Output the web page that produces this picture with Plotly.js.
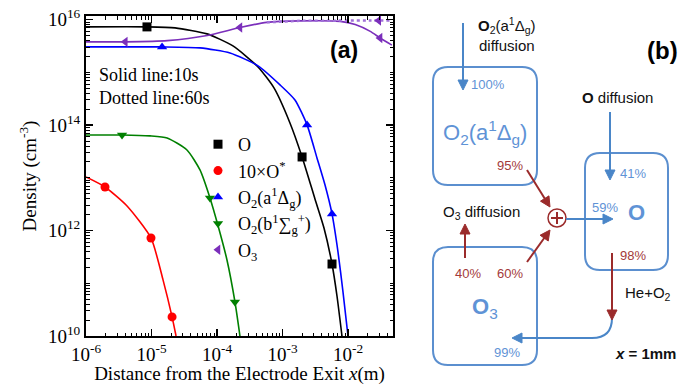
<!DOCTYPE html>
<html><head><meta charset="utf-8">
<script src="https://cdn.plot.ly/plotly-3.0.1.min.js"></script>
<style>body{margin:0;background:#fff}#c{width:686px;height:385px}</style>
</head><body><div id="c"></div>
<script>
// ---- data (panel a) ----
const oX = [1e-6, 8.53e-6, 2.29e-5, 7.03e-5, 1.75e-4, 4.23e-4, 7.41e-4, 1.30e-3, 1.99e-3, 3.13e-3, 4.30e-3, 5.70e-3, 6.79e-3, 8.09e-3];
const oY = [7.3e15, 7.3e15, 6.98e15, 5.38e15, 3.18e15, 1.27e15, 5.08e14, 1.10e14, 2.49e13, 3.98e12, 1.12e12, 2.32e11, 5.74e10, 1e10];
const oMkX = [8.53e-6, 1.99e-3, 5.70e-3];
const oMkY = [7.3e15, 2.49e13, 2.32e11];

const oStarX = [1e-6, 1.95e-6, 4.23e-6, 9.82e-6, 1.50e-5, 2.06e-5, 2.37e-5];
const oStarY = [1.04e13, 6.71e12, 2.93e12, 7.24e11, 1.16e11, 2.3e10, 1e10];
const oStarMkX = [1.95e-6, 9.82e-6, 2.06e-5];
const oStarMkY = [6.71e12, 7.24e11, 2.3e10];

const aX = [1e-6, 1.45e-5, 5.5e-5, 1.58e-4, 4.23e-4, 9.16e-4, 1.55e-3, 2.37e-3, 3.36e-3, 4.46e-3, 5.70e-3, 7.04e-3, 8.39e-3, 1e-2];
const aY = [3.05e15, 3.05e15, 2.92e15, 2.34e15, 1.33e15, 5.8e14, 3.0e14, 1.01e14, 2.39e13, 7.3e12, 2.07e12, 3.9e11, 6.8e10, 1e10];
const aMkX = [1.45e-5, 2.37e-3, 5.70e-3];
const aMkY = [3.05e15, 1.01e14, 2.07e12];

const bX = [1e-6, 3.55e-6, 9.48e-6, 1.73e-5, 3.48e-5, 5.5e-5, 7.81e-5, 1.04e-4, 1.42e-4, 1.88e-4, 2.24e-4];
const bY = [6.5e13, 6.5e13, 6.24e13, 5.71e13, 3.38e13, 1.41e13, 4.16e12, 1.22e12, 2.77e11, 4.42e10, 1e10];
const bMkX = [3.55e-6, 7.81e-5, 1.88e-4];
const bMkY = [6.5e13, 4.16e12, 4.42e10];

const o3X = [1e-6, 3.98e-6, 1.74e-5, 7.1e-5, 2.24e-4, 5.75e-4, 1.86e-3, 7.6e-3, 1.29e-2, 2.19e-2, 3.09e-2, 4.68e-2];
const o3Y = [3.8e15, 3.8e15, 4.0e15, 5.0e15, 7.1e15, 8.9e15, 9.5e15, 9.3e15, 8.1e15, 6.0e15, 4.5e15, 3.3e15];
const o3MkX = [3.98e-6, 2.24e-4, 3.09e-2];
const o3MkY = [3.8e15, 7.1e15, 4.5e15];
const o3DotX = [5.75e-4, 1.86e-3, 7.6e-3, 2.19e-2, 4.68e-2];
const o3DotY = [8.9e15, 9.5e15, 9.6e15, 9.6e15, 9.6e15];
const o3DotMkX = [2.95e-2];
const o3DotMkY = [9.6e15];

const xTickVals = [1e-6, 1e-5, 1e-4, 1e-3, 1e-2];
const xTickText = ['10<sup>-6</sup>', '10<sup>-5</sup>', '10<sup>-4</sup>', '10<sup>-3</sup>', '10<sup>-2</sup>'];
const yTickVals = [1e10, 1e12, 1e14, 1e16];
const yTickText = ['10<sup>10</sup>', '10<sup>12</sup>', '10<sup>14</sup>', '10<sup>16</sup>'];

// ---- helpers (layout only) ----
const W = 686, H = 385;
const px = x => x / W, py = y => 1 - y / H;
function minorVals(e0, e1, withDecades) {
  const v = [];
  for (let e = e0; e <= e1; e++) {
    if (withDecades && e % 2 !== 0) v.push(Math.pow(10, e));
    for (let k = 2; k <= 9; k++) v.push(k * Math.pow(10, e));
  }
  return v;
}

const C = {O: '#000000', Os: '#ff0000', a: '#0000ff', b: '#008000', o3: '#7b2fbb', o3d: '#a070d8'};
const serif = 'Liberation Serif, Times New Roman, serif';
const sans = 'Liberation Sans, Arial, sans-serif';

function line(x, y, color, extra) { return Object.assign({x, y, mode: 'lines', line: {color, width: 1.6, shape: 'spline', smoothing: 0.6}, showlegend: false, hoverinfo: 'skip'}, extra || {}); }
function mk(x, y, color, symbol, name, show) { return {x, y, mode: 'markers', name, showlegend: show, marker: {color, symbol, size: 9}}; }

const traces = [
  line(oX, oY, C.O), line(oStarX, oStarY, C.Os), line(aX, aY, C.a), line(bX, bY, C.b), line(o3X, o3Y, C.o3),
  line(o3DotX, o3DotY, C.o3d, {line: {color: C.o3d, width: 2.5, dash: 'dot', shape: 'spline'}}),
  mk(oMkX, oMkY, C.O, 'square', 'O', true),
  mk(oStarMkX, oStarMkY, C.Os, 'circle', '10×O<sup>*</sup>', true),
  mk(aMkX, aMkY, C.a, 'triangle-up', 'O<sub>2</sub>(a<sup>1</sup>Δ<sub>g</sub>)', true),
  mk(bMkX, bMkY, C.b, 'triangle-down', 'O<sub>2</sub>(b<sup>1</sup>∑<sub>g</sub><sup>+</sup>)', true),
  mk(o3MkX, o3MkY, C.o3, 'triangle-left', 'O<sub>3</sub>', true),
  mk(o3DotMkX, o3DotMkY, C.o3, 'triangle-left', 'O3 60s', false)
];

// ---- panel (b) diagram ----
const boxBlue = '#5b8fcf', txtBlue = '#5f93d6', red = '#a33a3a', arrRed = '#9b2b2b', arrBlue = '#4a86c8';
const P = (x, y) => px(x) + ',' + py(y);
function rr(x0, y0, x1, y1, r) {
  return 'M' + P(x0 + r, y0) + ' L' + P(x1 - r, y0) + ' Q' + P(x1, y0) + ' ' + P(x1, y0 + r) +
    ' L' + P(x1, y1 - r) + ' Q' + P(x1, y1) + ' ' + P(x1 - r, y1) +
    ' L' + P(x0 + r, y1) + ' Q' + P(x0, y1) + ' ' + P(x0, y1 - r) +
    ' L' + P(x0, y0 + r) + ' Q' + P(x0, y0) + ' ' + P(x0 + r, y0) + ' Z';
}
function arrowShapes(x0, y0, x1, y1, color) {
  const L = Math.hypot(x1 - x0, y1 - y0), ux = (x1 - x0) / L, uy = (y1 - y0) / L;
  const hl = 10, hw = 5;
  const bx = x1 - ux * hl, by = y1 - uy * hl;
  return [
    {type: 'line', xref: 'paper', yref: 'paper', x0: px(x0), y0: py(y0), x1: px(bx + ux * 2), y1: py(by + uy * 2), line: {color, width: 2}},
    {type: 'path', xref: 'paper', yref: 'paper', path: 'M' + P(x1, y1) + ' L' + P(bx - uy * hw, by + ux * hw) + ' L' + P(bx + uy * hw, by - ux * hw) + ' Z', fillcolor: color, line: {color, width: 1}}
  ];
}
const shapes = [
  {type: 'path', xref: 'paper', yref: 'paper', path: rr(433, 67, 537, 185, 15), line: {color: boxBlue, width: 2}},
  {type: 'path', xref: 'paper', yref: 'paper', path: rr(585, 153, 668, 270, 15), line: {color: boxBlue, width: 2}},
  {type: 'path', xref: 'paper', yref: 'paper', path: rr(433, 247, 537, 365, 15), line: {color: boxBlue, width: 2}},
  {type: 'path', xref: 'paper', yref: 'paper', path: 'M' + P(612, 318) + ' Q' + P(612, 338) + ' ' + P(592, 338) + ' L' + P(524, 338), line: {color: arrBlue, width: 2}},
  {type: 'circle', xref: 'paper', yref: 'paper', x0: px(548), x1: px(566), y0: py(227), y1: py(209), line: {color: arrRed, width: 1.5}, fillcolor: '#fff'},
  {type: 'line', xref: 'paper', yref: 'paper', x0: px(551), x1: px(563), y0: py(218), y1: py(218), line: {color: arrRed, width: 2}},
  {type: 'line', xref: 'paper', yref: 'paper', x0: px(557), x1: px(557), y0: py(212), y1: py(224), line: {color: arrRed, width: 2}}
].concat(
  arrowShapes(463, 23, 463, 90, arrBlue),
  arrowShapes(610, 112, 610, 180, arrBlue),
  arrowShapes(566, 219, 613, 219, arrBlue),
  arrowShapes(528, 338, 512, 338, arrBlue),
  arrowShapes(527, 170, 550, 207, arrRed),
  arrowShapes(527, 262, 550, 230, arrRed),
  arrowShapes(465, 258, 465, 224, arrRed),
  arrowShapes(612, 253, 612, 320, arrRed)
);
function txt(x, y, text, size, color, family, extra) {
  return Object.assign({xref: 'paper', yref: 'paper', x: px(x), y: py(y), text, showarrow: false, xanchor: 'center', yanchor: 'middle', font: {size, color, family}}, extra || {});
}
const annotations = [
  // panel (a)
  txt(97, 75, 'Solid line:10s', 18, '#000', serif, {xanchor: 'left'}),
  txt(97, 98, 'Dotted line:60s', 18, '#000', serif, {xanchor: 'left'}),
  txt(344, 50, '<b>(a)</b>', 23, '#000', sans),
  // panel (b)
  txt(507, 25, '<b>O</b><sub>2</sub>(a<sup>1</sup>Δ<sub>g</sub>)', 15, '#111', sans),
  txt(507, 45, 'diffusion', 15, '#111', sans),
  txt(662, 50, '<b>(b)</b>', 24, '#000', sans),
  txt(488, 85, '100%', 13, txtBlue, sans),
  txt(485, 132, 'O<sub>2</sub>(a<sup>1</sup>Δ<sub>g</sub>)', 22, txtBlue, sans),
  txt(510, 165, '95%', 13, red, sans),
  txt(617, 98, '<b>O</b> diffusion', 15, '#111', sans),
  txt(633, 173, '41%', 13, txtBlue, sans),
  txt(605, 208, '59%', 13, txtBlue, sans),
  txt(636, 213, '<b>O</b>', 22, txtBlue, sans),
  txt(633, 255, '98%', 13, red, sans),
  txt(482, 213, 'O<sub>3</sub> diffusion', 15, '#111', sans),
  txt(468, 273, '40%', 13, red, sans),
  txt(510, 273, '60%', 13, red, sans),
  txt(485, 308, '<b>O</b><sub>3</sub>', 22, txtBlue, sans),
  txt(507, 352, '99%', 13, txtBlue, sans),
  txt(648, 293, 'He+O<sub>2</sub>', 15, '#111', sans),
  txt(645, 353, '<b><i>x</i> = 1mm</b>', 15, '#111', sans)
];

const axisCommon = {type: 'log', showline: true, linecolor: '#000', linewidth: 2, mirror: 'allticks', ticks: 'inside', ticklen: 7, tickwidth: 1.5, tickcolor: '#000', showgrid: false, zeroline: false, tickmode: 'array', tickfont: {family: serif, size: 19, color: '#000'}};

const layout = {
  width: W, height: H, margin: {l: 0, r: 0, t: 0, b: 0}, paper_bgcolor: '#fff', plot_bgcolor: '#fff',
  showlegend: true,
  legend: {x: px(198), y: py(126), xanchor: 'left', yanchor: 'top', bgcolor: 'rgba(0,0,0,0)', font: {family: serif, size: 18, color: '#000'}, itemwidth: 30, tracegroupgap: 0},
  xaxis: Object.assign({}, axisCommon, {domain: [px(86), px(393)], range: [-6, -1.313], tickvals: xTickVals, ticktext: xTickText,
    minor: {tickvals: minorVals(-6, -2, false), ticks: 'inside', ticklen: 3.5, tickcolor: '#000', tickwidth: 1},
    title: {text: 'Distance from the Electrode Exit <i>x</i>(m)', font: {family: serif, size: 19, color: '#000'}, standoff: 6}}),
  yaxis: Object.assign({}, axisCommon, {domain: [py(336), py(16)], range: [10, 16.07], tickvals: yTickVals, ticktext: yTickText,
    minor: {tickvals: minorVals(10, 15, true), ticks: 'inside', ticklen: 3.5, tickcolor: '#000', tickwidth: 1},
    title: {text: 'Density (cm<sup>-3</sup>)', font: {family: serif, size: 19, color: '#000'}, standoff: 6}}),
  shapes, annotations
};
Plotly.newPlot('c', traces, layout, {displayModeBar: false, staticPlot: true});
</script></body></html>
